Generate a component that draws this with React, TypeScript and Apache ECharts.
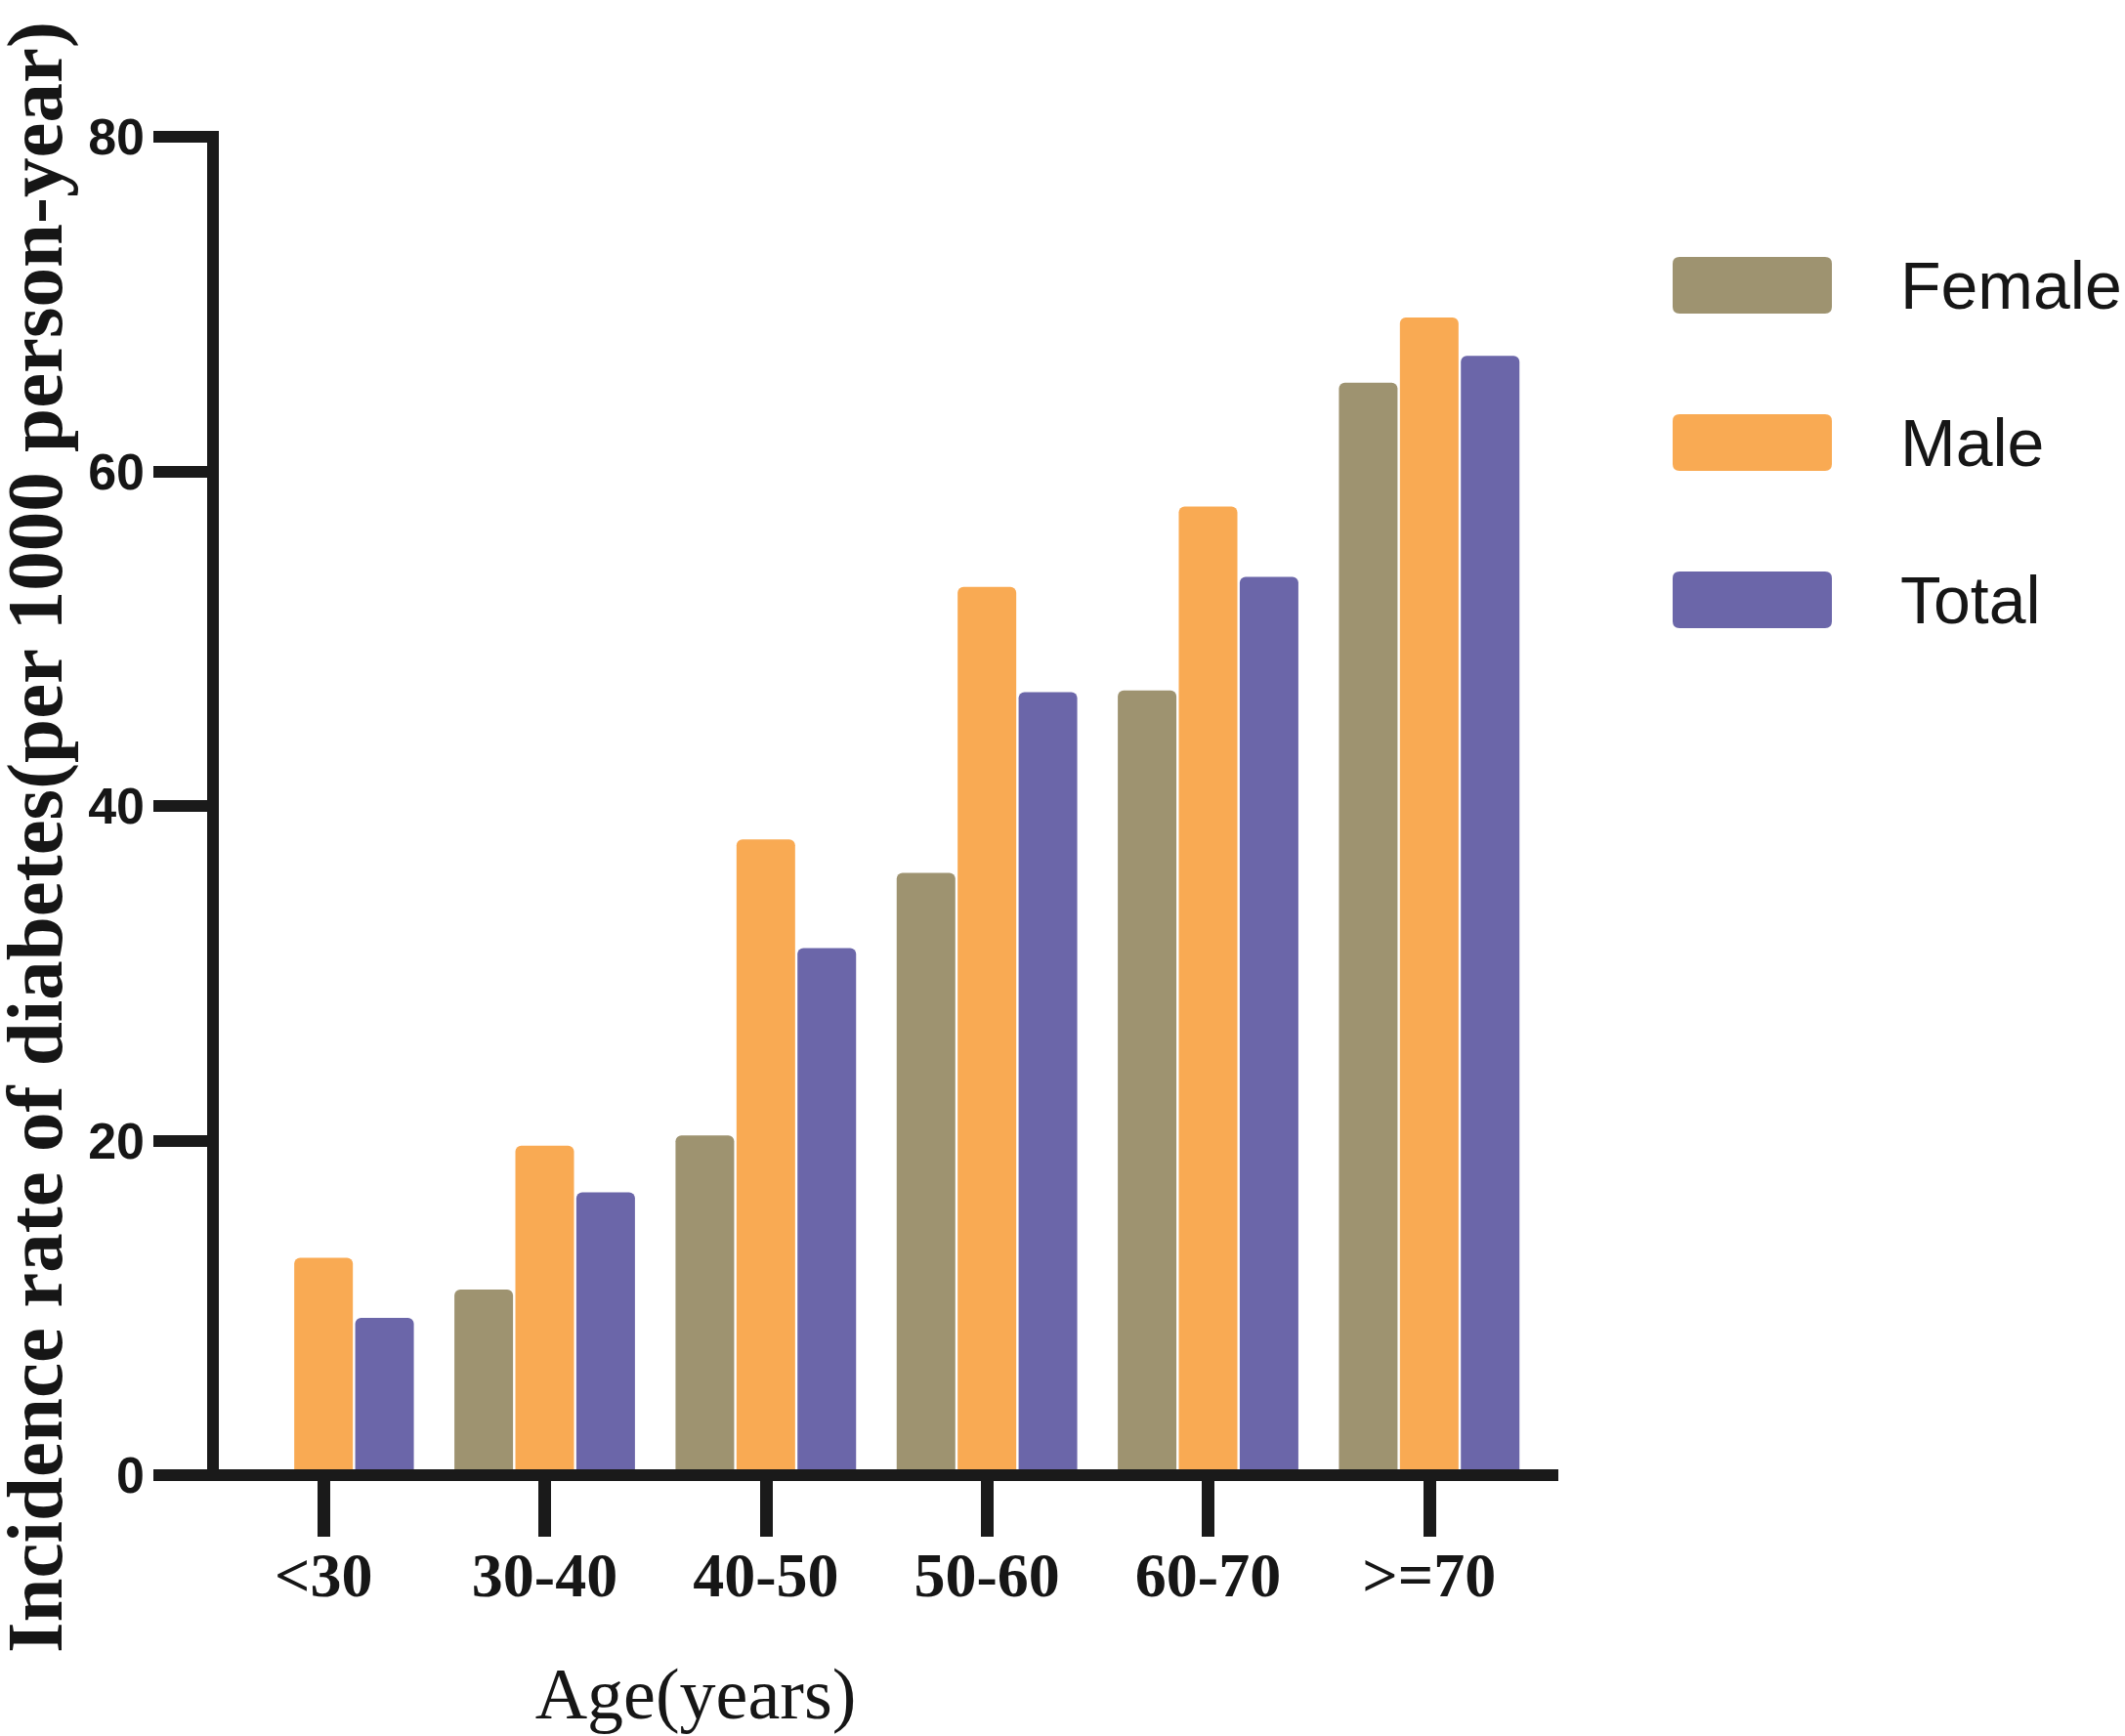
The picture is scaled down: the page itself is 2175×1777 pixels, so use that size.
import React, { useEffect, useRef } from "react";
import * as echarts from "echarts";

const categories = ["<30", "30-40", "40-50", "50-60", "60-70", ">=70"];
const femaleValues = [0, 11.1, 20.3, 36.0, 46.9, 65.3];
const maleValues = [13.0, 19.7, 38.0, 53.1, 57.9, 69.2];
const totalValues = [9.4, 16.9, 31.5, 46.8, 53.7, 66.9];
const seriesNames = ["Female", "Male", "Total"];
const seriesColors = ["#9E9370", "#F9AA53", "#6B66A9"];
const yTitle = "Incidence rate of diabetes(per 1000 person-year)";
const xTitle = "Age(years)";

const legendIcon =
  "path://M7,0H156Q163,0 163,7V51Q163,58 156,58H7Q0,58 0,51V7Q0,0 7,0Z";

export default function App() {
  const ref = useRef<HTMLDivElement>(null);

  useEffect(() => {
    if (!ref.current) return;
    const chart = echarts.init(ref.current, null, { renderer: "svg" });
    const dataSets = [femaleValues, maleValues, totalValues];
    const option: any = {
      animation: false,
      backgroundColor: "#ffffff",
      grid: { left: 218, top: 140, width: 1358, height: 1370, containLabel: false },
      legend: {
        orient: "vertical",
        left: 1712,
        top: 258,
        padding: 0,
        itemWidth: 163,
        itemHeight: 58,
        itemGap: 93,
        icon: legendIcon,
        selectedMode: false,
        textStyle: {
          fontFamily: "Liberation Sans, Arial, sans-serif",
          fontSize: 68,
          lineHeight: 58,
          color: "#161616",
          padding: [0, 0, 0, 65],
        },
        data: seriesNames,
      },
      xAxis: {
        type: "category",
        data: categories,
        z: 5,
        axisLine: {
          show: true,
          symbol: ["none", "rect"],
          symbolSize: [12, 19],
          symbolOffset: [0, 9.5],
          lineStyle: { color: "#1a1a1a", width: 12, cap: "square" },
        },
        axisTick: {
          show: true,
          alignWithLabel: true,
          interval: 0,
          length: 63,
          lineStyle: { color: "#1a1a1a", width: 13 },
        },
        axisLabel: {
          interval: 0,
          margin: 70,
          fontFamily: "Liberation Serif, Times New Roman, serif",
          fontWeight: "bold",
          fontSize: 64,
          color: "#161616",
        },
        splitLine: { show: false },
      },
      yAxis: {
        type: "value",
        min: 0,
        max: 80,
        interval: 20,
        z: 5,
        axisLine: { show: true, lineStyle: { color: "#1a1a1a", width: 12, cap: "square" } },
        axisTick: { show: true, length: 61, lineStyle: { color: "#1a1a1a", width: 12 } },
        axisLabel: {
          margin: 70,
          fontFamily: "Liberation Sans, Arial, sans-serif",
          fontWeight: "bold",
          fontSize: 52,
          color: "#161616",
        },
        splitLine: { show: false },
      },
      graphic: [
        {
          type: "text",
          x: 36,
          y: 857,
          rotation: Math.PI / 2,
          style: {
            text: yTitle,
            font: "bold 81px 'Liberation Serif', 'Times New Roman', serif",
            fill: "#161616",
            textAlign: "center",
            textVerticalAlign: "middle",
            align: "center",
            verticalAlign: "middle",
          },
        },
        {
          type: "text",
          x: 712,
          y: 1734,
          style: {
            text: xTitle,
            font: "74px 'Liberation Serif', 'Times New Roman', serif",
            fill: "#161616",
            textAlign: "center",
            textVerticalAlign: "middle",
            align: "center",
            verticalAlign: "middle",
          },
        },
      ],
      series: seriesNames.map((name, i) => ({
        name,
        type: "bar",
        data: dataSets[i],
        barWidth: 60,
        barGap: "4%",
        itemStyle: { color: seriesColors[i], borderRadius: [6, 6, 0, 0] },
      })),
    };
    chart.setOption(option);
    return () => chart.dispose();
  }, []);

  return (
    <div
      ref={ref}
      style={{ position: "absolute", left: 0, top: 0, width: 2175, height: 1777, background: "#fff" }}
    />
  );
}
